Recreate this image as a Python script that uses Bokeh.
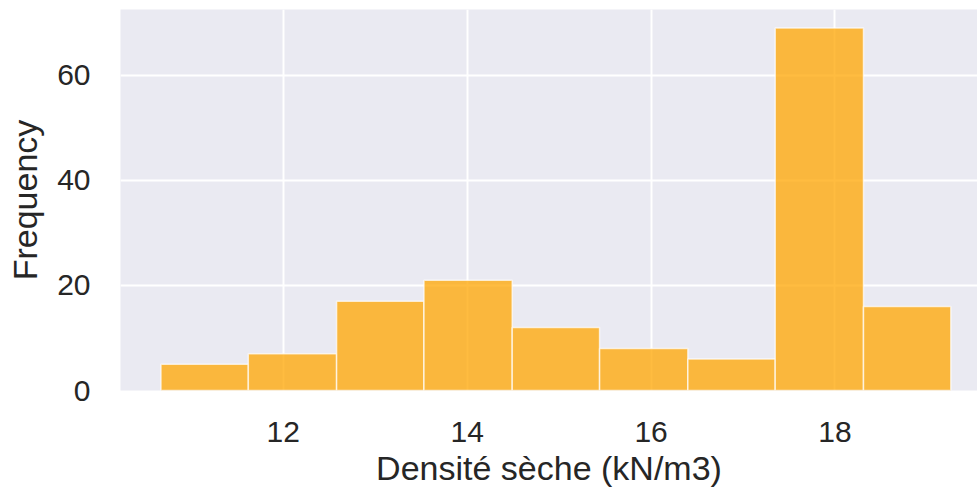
from bokeh.plotting import figure
from bokeh.models import FixedTicker, Range1d
from bokeh.embed import file_html
from bokeh.resources import INLINE

# Histogram data
bin_edges = [10.67, 11.62, 12.58, 13.53, 14.49, 15.44, 16.40, 17.35, 18.31, 19.26]
counts = [5, 7, 17, 21, 12, 8, 6, 69, 16]
x_ticks = [12, 14, 16, 18]
y_ticks = [0, 20, 40, 60]
x_label = "Densité sèche (kN/m3)"
y_label = "Frequency"

FONT = "Liberation Sans"
TXT = "#262626"

p = figure(width=977, height=489, output_backend="svg", toolbar_location=None,
           x_range=Range1d(10.23, 19.55), y_range=Range1d(0, 72.5),
           min_border_left=120, min_border_right=0, min_border_top=9,
           min_border_bottom=98)

p.background_fill_color = "#EAEAF2"
p.border_fill_color = "white"
p.outline_line_color = None

p.quad(left=bin_edges[:-1], right=bin_edges[1:], bottom=0, top=counts,
       fill_color="orange", fill_alpha=0.75,
       line_color="white", line_alpha=0.7, line_width=1.5)

p.xaxis.ticker = FixedTicker(ticks=x_ticks)
p.yaxis.ticker = FixedTicker(ticks=y_ticks)
p.xgrid.ticker = FixedTicker(ticks=x_ticks)
p.ygrid.ticker = FixedTicker(ticks=y_ticks)
for g in (p.xgrid, p.ygrid):
    g.grid_line_color = "white"
    g.grid_line_width = 2

for ax in (p.xaxis, p.yaxis):
    ax.axis_line_color = None
    ax.major_tick_line_color = None
    ax.minor_tick_line_color = None
    ax.major_tick_out = 0
    ax.major_tick_in = 0
    ax.major_label_text_font = FONT
    ax.major_label_text_font_size = "30px"
    ax.major_label_text_color = TXT
    ax.axis_label_text_font = FONT
    ax.axis_label_text_font_size = "34px"
    ax.axis_label_text_font_style = "normal"
    ax.axis_label_text_color = TXT

p.xaxis.axis_label = x_label
p.yaxis.axis_label = y_label
p.xaxis.major_label_standoff = 31
p.xaxis.axis_label_standoff = 4
p.yaxis.major_label_standoff = 30
p.yaxis.axis_label_standoff = 10

open("out.html", "w").write(file_html(p, INLINE))
